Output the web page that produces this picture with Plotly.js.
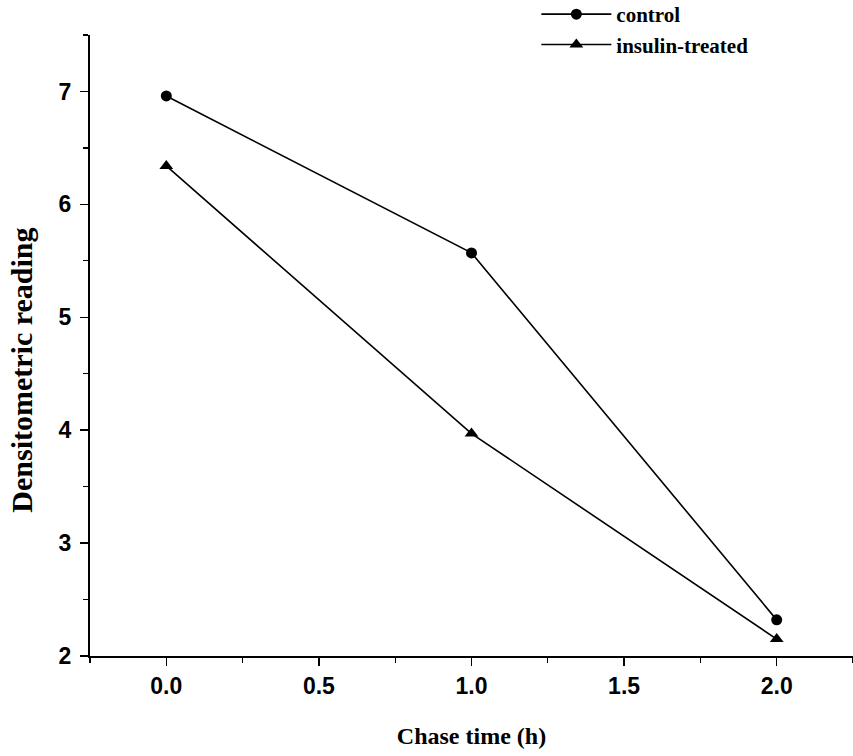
<!DOCTYPE html>
<html>
<head>
<meta charset="utf-8">
<script src="https://cdn.plot.ly/plotly-3.0.1.min.js"></script>
<style>html,body{margin:0;padding:0;background:#fff;}#chart{width:853px;height:756px;}</style>
</head>
<body>
<div id="chart"></div>
<script>
const chaseTime = [0, 1, 2];
const control = [6.96, 5.57, 2.32];
const insulinTreated = [6.34, 3.97, 2.15];
const seriesNames = ["control", "insulin-treated"];
const xTickVals = [0, 0.5, 1, 1.5, 2];
const xTickText = ["0.0", "0.5", "1.0", "1.5", "2.0"];
const yTickVals = [2, 3, 4, 5, 6, 7];
const xTitle = "Chase time (h)";
const yTitle = "Densitometric reading";

const lineStyle = {color: "#000", width: 1.6};
const traces = [
  {x: chaseTime, y: control, name: seriesNames[0], mode: "lines+markers",
   line: lineStyle, marker: {symbol: "circle", size: 11, color: "#000"}},
  {x: chaseTime, y: insulinTreated, name: seriesNames[1], mode: "lines+markers",
   line: lineStyle, marker: {symbol: "triangle-up", size: 12, color: "#000"}}
];

const tickFont = {family: "Liberation Sans, Arial, sans-serif", size: 23, color: "#000", weight: "bold"};
const serif = "Liberation Serif, Times New Roman, serif";

const layout = {
  width: 853, height: 756,
  paper_bgcolor: "#fff", plot_bgcolor: "#fff",
  margin: {l: 90, r: 0, t: 35, b: 100, autoexpand: false},
  showlegend: true,
  legend: {x: 0.585, y: 1.066, xanchor: "left", yanchor: "top",
           font: {family: serif, size: 21, color: "#000", weight: "bold"},
           bgcolor: "rgba(0,0,0,0)", itemwidth: 70, tracegroupgap: 0},
  xaxis: {
    range: [-0.25, 2.25], showgrid: false, zeroline: false,
    showline: true, linecolor: "#000", linewidth: 2,
    ticks: "outside", ticklen: 8, tickwidth: 1.5, tickcolor: "#000",
    tickvals: xTickVals, ticktext: xTickText, tickfont: tickFont,
    minor: {dtick: 0.25, tick0: 0, ticks: "outside", ticklen: 5, tickwidth: 1.2, tickcolor: "#000"},
    title: {text: xTitle, font: {family: serif, size: 24, color: "#000", weight: "bold"}, standoff: 30}
  },
  yaxis: {
    range: [2, 7.5], showgrid: false, zeroline: false,
    showline: true, linecolor: "#000", linewidth: 2,
    ticks: "outside", ticklen: 8, tickwidth: 1.5, tickcolor: "#000",
    tickvals: yTickVals, tickfont: tickFont, ticklabelstandoff: 4,
    minor: {dtick: 0.5, tick0: 0, ticks: "outside", ticklen: 5, tickwidth: 1.2, tickcolor: "#000"}
  },
  annotations: [{
    text: yTitle, textangle: -90, showarrow: false,
    xref: "paper", yref: "paper", x: -0.09, y: 0.46, xanchor: "center", yanchor: "middle",
    font: {family: serif, size: 30, color: "#000", weight: "bold"}
  }]
};

Plotly.newPlot("chart", traces, layout, {displayModeBar: false, staticPlot: true});
</script>
</body>
</html>
